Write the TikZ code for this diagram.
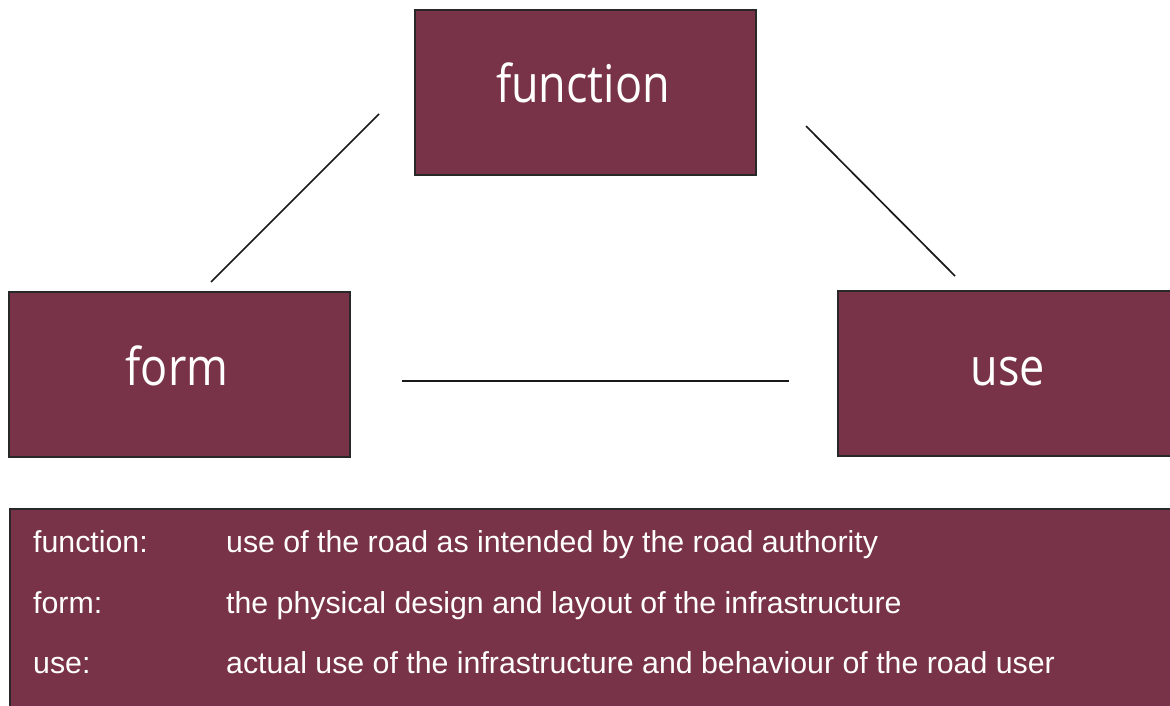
\documentclass[tikz,border=0pt]{standalone}
\usepackage{fontspec}
\setmainfont{Liberation Sans}
\newfontfamily\boxfont{Open Sans}
\usepackage{graphicx}
\definecolor{wine}{RGB}{120,51,72}
\definecolor{edgegrey}{RGB}{40,40,40}
\begin{document}
\begin{tikzpicture}[x=1pt,y=-1pt,
  box/.style={draw=edgegrey,line width=2pt,fill=wine,inner sep=0pt},
  boxlabel/.style={text=white,anchor=base,inner sep=0pt,font=\boxfont\fontsize{52}{60}\selectfont},
  legend/.style={text=white,anchor=base west,inner sep=0pt,font=\fontsize{30.3}{34}\selectfont},
  link/.style={line width=1.7pt,draw=black!90}]
\useasboundingbox (0,0) rectangle (1170,706);
\clip (0,0) rectangle (1170,706);
% boxes
\node[box,minimum width=341pt,minimum height=165pt] (fbox) at (585.5,92.5) {};
\node[box,minimum width=341pt,minimum height=165pt] (formbox) at (179.5,374.5) {};
\node[box,minimum width=342pt,minimum height=165pt] (usebox) at (1009,373.5) {};
\node[box,minimum width=1170pt,minimum height=211pt] (legendbox) at (595,614.5) {};
% box labels
\node[boxlabel] (flabel) at (583,103) {\scalebox{0.865}[1]{function}};
\node[boxlabel] (formlabel) at (177,385) {\scalebox{0.865}[1]{form}};
\node[boxlabel] (uselabel) at (1008,385) {\scalebox{0.865}[1]{use}};
% connectors
\coordinate (a1) at (379,114);
\coordinate (a2) at (211,282);
\coordinate (b1) at (806,126);
\coordinate (b2) at (955,276);
\coordinate (c1) at (402,381);
\coordinate (c2) at (789,381);
\draw[link] (a1) -- (a2);
\draw[link] (b1) -- (b2);
\draw[link] (c1) -- (c2);
% legend
\node[legend] (l1) at (33,552) {function:};
\node[legend] (d1) at (226,552) {use of the road as intended by the road authority};
\node[legend] (l2) at (33,613) {form:};
\node[legend] (d2) at (226,613) {the physical design and layout of the infrastructure};
\node[legend] (l3) at (33,673) {use:};
\node[legend] (d3) at (226,673) {actual use of the infrastructure and behaviour of the road user};
\end{tikzpicture}
\end{document}
